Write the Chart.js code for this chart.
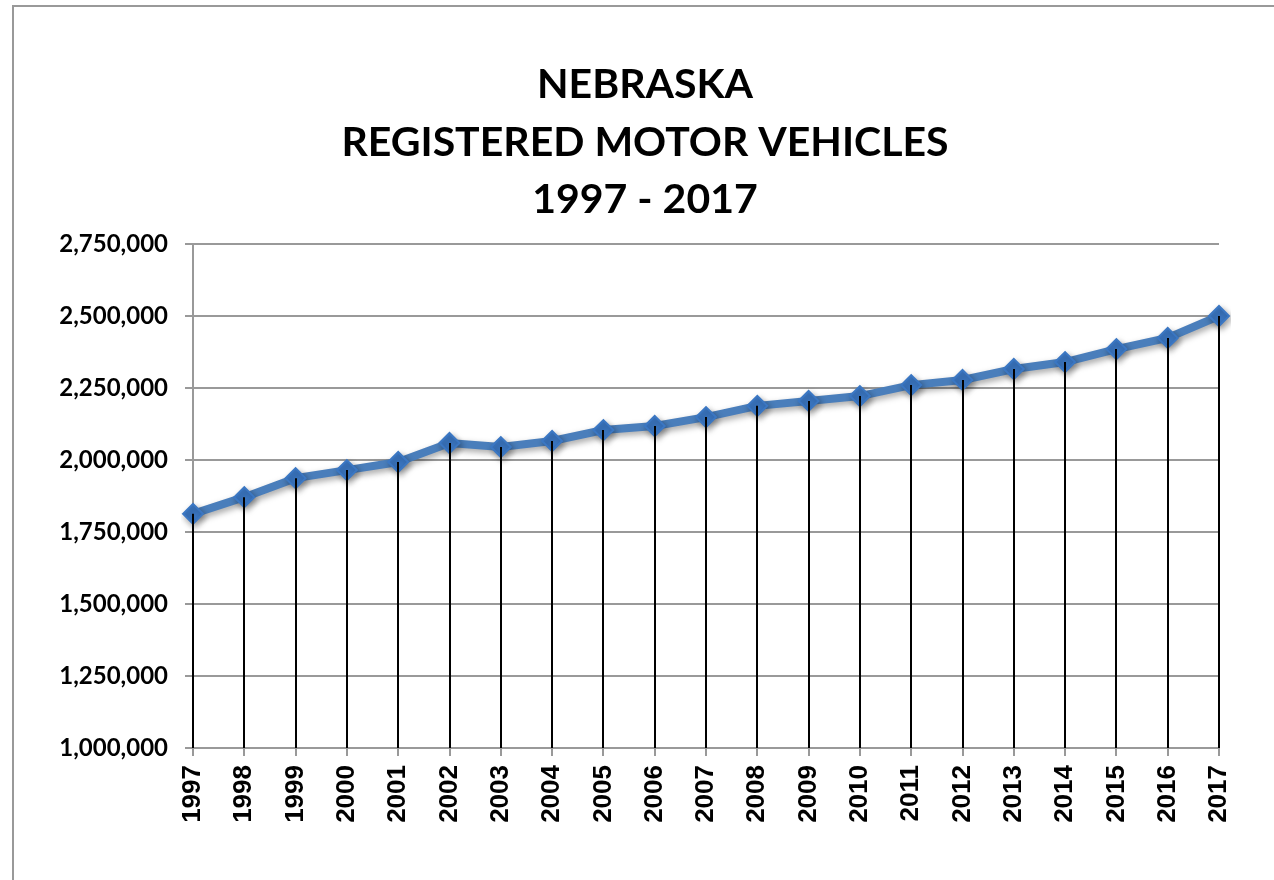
<!DOCTYPE html>
<html>
<head>
<meta charset="utf-8">
<script src="https://cdn.jsdelivr.net/npm/chart.js@4.4.1/dist/chart.umd.min.js"></script>
<style>
  html, body { margin: 0; padding: 0; background: #fff; }
  #frame {
    position: absolute; left: 12px; top: 5px; width: 1400px; height: 1000px;
    border-left: 2px solid #999; border-top: 2px solid #999;
  }
  #wrap { position: absolute; left: 0; top: 0; width: 1274px; height: 880px; }
</style>
</head>
<body>
<div id="frame"></div>
<div id="wrap"><canvas id="line_chart" width="1274" height="880"></canvas></div>
<script>
const years = ["1997", "1998", "1999", "2000", "2001", "2002", "2003", "2004", "2005", "2006", "2007",
  "2008", "2009", "2010", "2011", "2012", "2013", "2014", "2015", "2016", "2017"];
const vehicles = [1813000, 1871000, 1937000, 1965000, 1993000, 2059000, 2045000, 2066000, 2104000, 2118000, 2149000,
  2188000, 2205000, 2222000, 2260000, 2278000, 2316000, 2340000, 2385000, 2424000, 2500000];
const titleLines = ["NEBRASKA", "REGISTERED MOTOR VEHICLES", "1997 - 2017"];

// three-line title, centred a bit left of the plot like the original
const chartTitle = {
  id: "chartTitle",
  afterDraw(chart) {
    const ctx = chart.ctx;
    ctx.save();
    ctx.fillStyle = "#000";
    ctx.font = "bold 41px Lato";
    ctx.textAlign = "center";
    ctx.textBaseline = "middle";
    titleLines.forEach((line, i) => {
      ctx.fillText(line, 645, 85 + i * 57.5);
    });
    ctx.restore();
  },
};

// black drop lines from every point down to the x axis
const dropLines = {
  id: "dropLines",
  afterDatasetsDraw(chart) {
    const ctx = chart.ctx;
    const bottom = chart.scales.y.getPixelForValue(1000000);
    ctx.save();
    ctx.strokeStyle = "#000";
    ctx.lineWidth = 2;
    chart.getDatasetMeta(0).data.forEach((pt) => {
      ctx.beginPath();
      ctx.moveTo(Math.round(pt.x), pt.y);
      ctx.lineTo(Math.round(pt.x), bottom);
      ctx.stroke();
    });
    ctx.restore();
  },
};

// soft shadow under the series, like the office chart
const seriesShadow = {
  id: "seriesShadow",
  beforeDatasetDraw(chart) {
    const ctx = chart.ctx;
    ctx.save();
    ctx.shadowColor = "rgba(0,0,0,0.35)";
    ctx.shadowBlur = 6;
    ctx.shadowOffsetX = 2;
    ctx.shadowOffsetY = 3;
  },
  afterDatasetDraw(chart) {
    chart.ctx.restore();
  },
};

const ctx = document.getElementById("line_chart");

const chart = new Chart(ctx, {
  type: "line",
  data: {
    labels: years,
    datasets: [
      {
        label: "Registered motor vehicles",
        data: vehicles,
        borderColor: "#4a7ebb",
        borderWidth: 8,
        pointStyle: "rectRot",
        pointRadius: 10,
        pointBorderWidth: 2,
        pointBackgroundColor: "#3b77c3",
        pointBorderColor: "#3b77c3",
        tension: 0,
      },
    ],
  },
  options: {
    responsive: false,
    animation: false,
    events: [],
    layout: { padding: { left: 0, right: 55, top: 244, bottom: 0 } },
    plugins: {
      legend: { display: false },
      tooltip: { enabled: false },
      title: { display: false },
    },
    scales: {
      x: {
        offset: false,
        grid: { drawOnChartArea: false, drawTicks: true, tickLength: 8, color: "#999", lineWidth: 2 },
        border: { display: false },
        ticks: {
          color: "#000",
          font: { family: "Liberation Sans", size: 26, weight: "bold" },
          minRotation: 90,
          maxRotation: 90,
          autoSkip: false,
          padding: 9,
        },
        afterFit(scale) { scale.height = 132; },
      },
      y: {
        min: 1000000,
        max: 2750000,
        grid: { color: "#999", lineWidth: 2, tickLength: 8 },
        border: { display: true, color: "#999", width: 2 },
        ticks: {
          stepSize: 250000,
          color: "#000",
          font: { family: "Lato", size: 24, weight: "bold" },
          padding: 17,
          callback: (v) => v.toLocaleString("en-US"),
        },
        afterFit(scale) { scale.width = 193; },
      },
    },
  },
  plugins: [seriesShadow, dropLines, chartTitle],
});
</script>
</body>
</html>
